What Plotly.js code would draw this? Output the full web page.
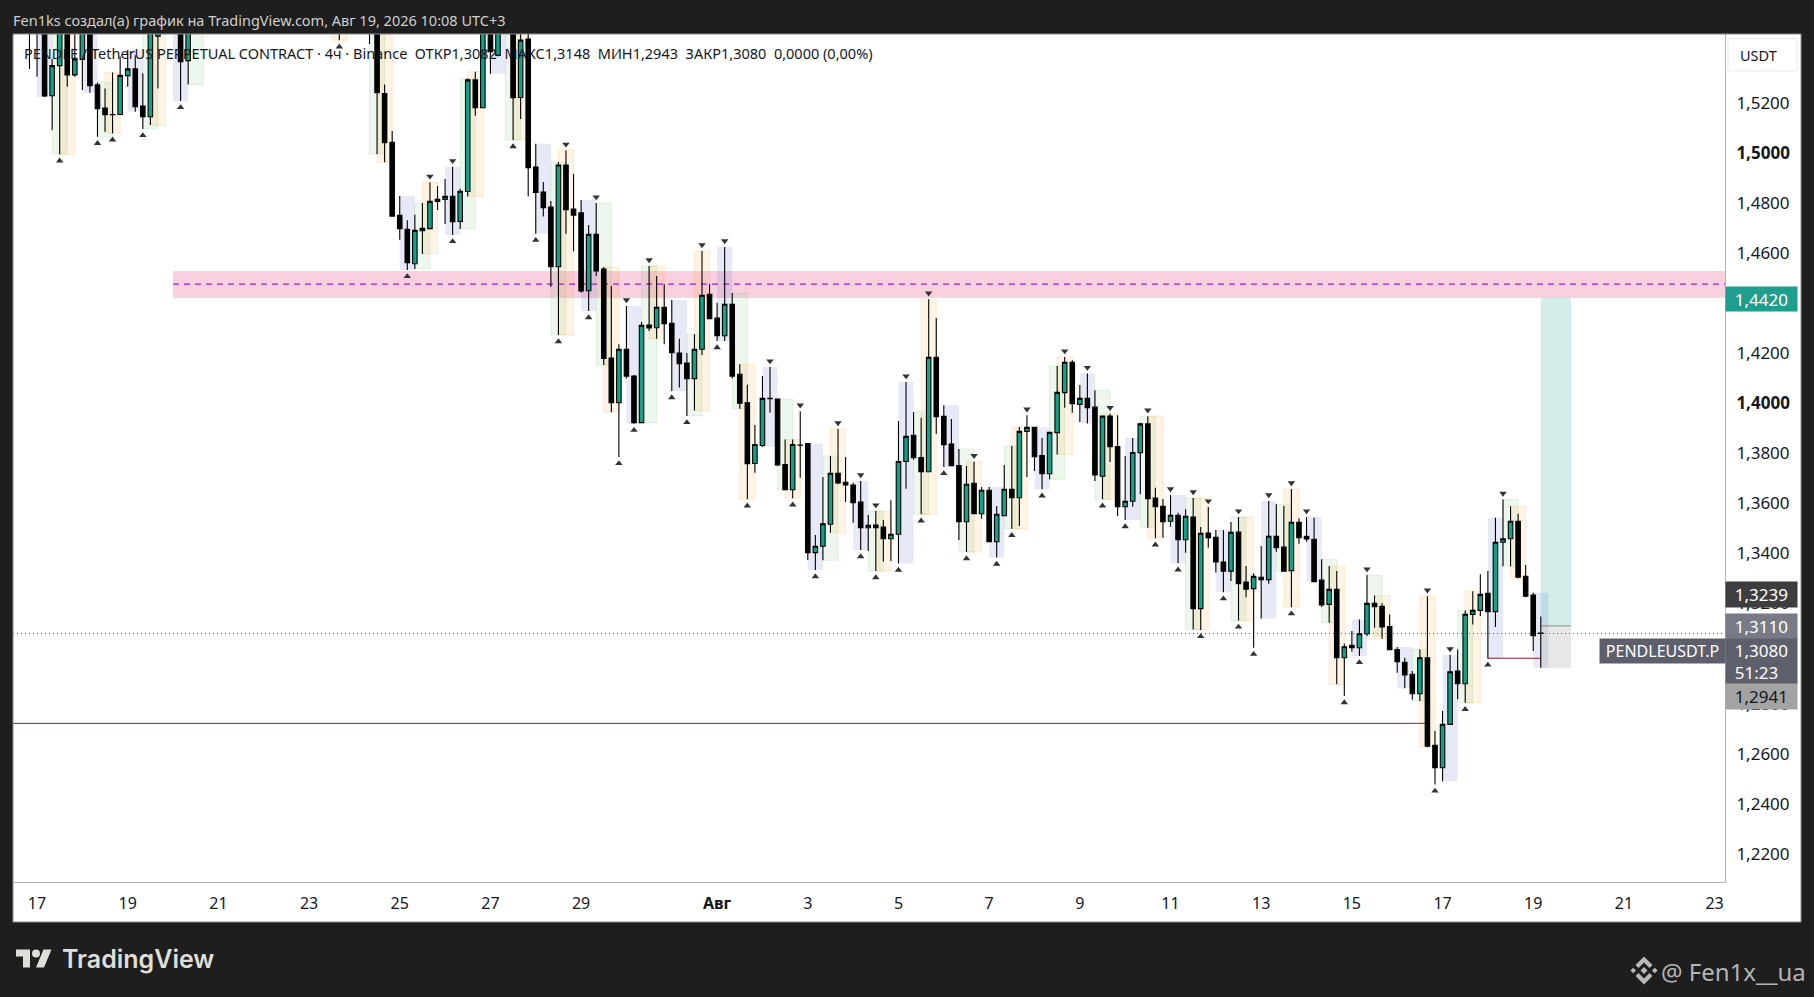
<!DOCTYPE html>
<html>
<head>
<meta charset="utf-8">
<script src="https://cdn.plot.ly/plotly-3.0.1.min.js"></script>
<style>html,body{margin:0;padding:0;background:#1e1e1e;overflow:hidden}#chart{width:1814px;height:997px}</style>
</head>
<body>
<div id="chart"></div>
<script>
// ---------- DATA ----------
const firstBar = '2026-07-16T23:00:00Z';
const barHours = 4;
const opens = [
1.5560,1.5520,1.5550,1.5228,1.5348,1.5520,1.5311,1.5373,1.5520,1.5271,1.5179,1.5153,1.5153,1.5308,1.5335,1.5187,1.5144,1.5466,1.5650,1.5710,1.5600,1.5368,
1.552,1.562,1.570,1.566,1.575,1.588,1.583,1.577,1.571,1.580,1.592,1.597,1.589,1.578,1.581,1.575,1.568,1.560,1.565,1.555,1.562,1.573,1.568,
1.575,1.565,1.5237,1.5042,1.4750,1.4694,1.4557,1.4689,1.4697,1.4806,1.4814,1.4826,1.4726,1.4845,1.5291,1.5180,1.555,1.5389,1.552,1.556,1.5221,1.5454,
1.4943,1.4843,1.4783,1.4545,1.4951,1.4775,1.4760,1.4449,1.4674,1.4536,1.4180,1.4002,1.4215,1.4108,1.3922,1.4312,1.4301,1.4383,1.4319,1.4200,1.4160,1.4098,1.4215,1.4435,1.4340,1.4269,1.4395,
1.4115,1.4001,1.3759,1.3831,1.4019,1.4016,1.3755,1.3654,1.3833,1.3839,1.3403,1.3428,1.3516,1.3720,1.3684,1.3673,1.3605,1.3502,1.3513,1.3505,1.3458,1.3476,1.3767,1.3871,1.3783,1.3726,1.4183,1.3947,1.3837,1.3751,1.3526,1.3680,1.3558,1.3652,1.3446,1.3550,1.3656,1.3622,1.3887,1.3903,1.3791,1.3718,1.3882,
1.4042,1.4163,1.3995,1.4019,1.3984,1.3708,1.3948,1.3827,1.3586,1.3608,1.3802,1.3917,1.3621,1.3588,1.3528,1.3552,1.3454,1.3545,1.3179,1.3481,1.3464,1.3365,1.3329,1.3485,1.3285,1.3259,1.3304,1.3295,1.3468,1.3425,1.3331,1.3524,1.3468,1.3456,1.3293,1.3196,1.3256,1.2983,1.3033,1.3023,1.3079,1.3200,1.3188,1.3108,1.3016,1.2965,1.2917,1.2839,1.2983,1.2633,1.2544,1.2717,1.2930,1.2879,1.3156,1.3172,1.3240,1.3167,1.3444,1.3458,1.3528,1.3308,1.3233,1.3082];
const highs = [
1.5650,1.5610,1.5570,1.5375,1.5600,1.5580,1.5520,1.5560,1.5560,1.5281,1.5257,1.5321,1.5385,1.5410,1.5390,1.5318,1.5530,1.5700,1.5770,1.5820,1.5650,1.5570,
1.566,1.574,1.582,1.579,1.592,1.598,1.590,1.585,1.583,1.596,1.604,1.606,1.595,1.586,1.593,1.583,1.576,1.570,1.572,1.566,1.578,1.585,1.580,
1.580,1.570,1.5273,1.5087,1.4827,1.4730,1.4752,1.4799,1.4882,1.4867,1.4895,1.4944,1.4856,1.5297,1.5324,1.560,1.560,1.556,1.566,1.562,1.550,1.5485,
1.5036,1.4883,1.4807,1.4963,1.5010,1.4916,1.4811,1.4711,1.4799,1.4544,1.4468,1.4235,1.4388,1.4112,1.4324,1.4548,1.4508,1.4475,1.4412,1.4257,1.4200,1.4275,1.4608,1.4476,1.4401,1.4624,1.4440,
1.4155,1.4073,1.3913,1.4108,1.4144,1.4016,1.3855,1.3855,1.3968,1.3839,1.3473,1.3705,1.3789,1.3897,1.3785,1.3682,1.3689,1.3553,1.3569,1.3533,1.3612,1.3929,1.4084,1.3965,1.3942,1.4415,1.4340,1.3992,1.3937,1.3817,1.3749,1.3766,1.3665,1.3665,1.3589,1.3753,1.3829,1.3905,1.3952,1.3903,1.3861,1.3883,1.4148,
1.4184,1.4171,1.4072,1.4118,1.4051,1.3948,1.3958,1.3952,1.3789,1.3861,1.3922,1.3948,1.3662,1.3617,1.3633,1.3562,1.3576,1.3621,1.3505,1.3585,1.3493,1.3493,1.3525,1.3545,1.3349,1.3320,1.3429,1.3609,1.3596,1.3589,1.3657,1.3540,1.3545,1.3542,1.3376,1.3349,1.3329,1.3040,1.3090,1.3136,1.3313,1.3232,1.3201,1.3156,1.3026,1.2983,1.2930,1.3016,1.3229,1.2690,1.2770,1.2994,1.3016,1.3172,1.3249,1.3316,1.3329,1.3542,1.3615,1.3588,1.3558,1.3353,1.3243,1.3148];
const lows = [
1.5335,1.5304,1.5223,1.5091,1.4994,1.5264,1.5304,1.5251,1.5240,1.5064,1.5084,1.5078,1.5150,1.5264,1.5164,1.5095,1.5111,1.5257,1.5530,1.5590,1.5207,1.5273,
1.549,1.557,1.564,1.558,1.570,1.579,1.572,1.566,1.563,1.575,1.585,1.584,1.574,1.566,1.573,1.562,1.556,1.551,1.550,1.5449,1.556,1.564,1.557,
1.5434,1.4995,1.4962,1.4745,1.4653,1.4532,1.4536,1.4596,1.4697,1.4771,1.4715,1.4672,1.4696,1.4825,1.5148,1.5178,1.5316,1.5385,1.549,1.5051,1.5135,1.4825,
1.4677,1.4745,1.4465,1.4272,1.4677,1.4607,1.4441,1.4368,1.4508,1.4152,1.3964,1.3785,1.4098,1.3918,1.3922,1.4288,1.4257,1.4235,1.4048,1.4062,1.3949,1.3971,1.4192,1.4337,1.4248,1.4248,1.4098,
1.3978,1.3616,1.3722,1.3825,1.3962,1.3749,1.3654,1.3620,1.3702,1.3373,1.3333,1.3372,1.3482,1.3676,1.3605,1.3522,1.3413,1.3409,1.3329,1.3367,1.3369,1.3359,1.3658,1.3774,1.3556,1.3726,1.3878,1.3745,1.3750,1.3453,1.3405,1.3558,1.3538,1.3446,1.3383,1.3550,1.3498,1.3509,1.3705,1.3729,1.3656,1.3696,1.3795,
1.3982,1.3962,1.3925,1.3919,1.3689,1.3616,1.3765,1.3549,1.3533,1.3586,1.3636,1.3502,1.3460,1.3462,1.3506,1.3360,1.3402,1.3096,1.3094,1.3422,1.3323,1.3245,1.3289,1.3132,1.3225,1.3023,1.3140,1.3279,1.3406,1.3329,1.3185,1.3438,1.3446,1.3287,1.3186,1.3123,1.2877,1.2830,1.3007,1.2990,1.3070,1.3103,1.3059,1.3015,1.2923,1.2861,1.2815,1.2810,1.2625,1.2477,1.2490,1.2717,1.2817,1.2803,1.3116,1.3150,1.2980,1.3106,1.3348,1.3348,1.3300,1.3225,1.3010,1.2943];
const closes = [
1.5520,1.5530,1.5227,1.5348,1.5500,1.5311,1.5375,1.5520,1.5268,1.5176,1.5152,1.5152,1.5309,1.5335,1.5184,1.5144,1.5500,1.5650,1.5710,1.5620,1.5364,1.5520,
1.562,1.570,1.566,1.575,1.588,1.583,1.577,1.571,1.580,1.592,1.597,1.589,1.578,1.581,1.575,1.568,1.560,1.565,1.555,1.562,1.573,1.568,1.575,
1.552,1.5240,1.5040,1.4747,1.4697,1.4561,1.4690,1.4698,1.4806,1.4814,1.4826,1.4725,1.4846,1.5291,1.5180,1.5535,1.5404,1.552,1.560,1.5220,1.5450,1.4940,
1.4841,1.4781,1.4545,1.4951,1.4773,1.4751,1.4448,1.4674,1.4528,1.4178,1.4002,1.4215,1.4108,1.3922,1.4311,1.4300,1.4383,1.4317,1.4201,1.4157,1.4098,1.4215,1.4431,1.4337,1.4269,1.4395,1.4108,
1.4000,1.3758,1.3835,1.4019,1.4018,1.3753,1.3654,1.3835,1.3832,1.3403,1.3428,1.3518,1.3720,1.3681,1.3673,1.3602,1.3502,1.3512,1.3502,1.3458,1.3476,1.3767,1.3867,1.3782,1.3726,1.4183,1.3946,1.3834,1.3750,1.3526,1.3676,1.3558,1.3652,1.3446,1.3556,1.3656,1.3622,1.3887,1.3903,1.3786,1.3718,1.3883,1.4043,
1.4163,1.3998,1.4019,1.3982,1.3713,1.3948,1.3826,1.3586,1.3608,1.3803,1.3917,1.3618,1.3586,1.3526,1.3552,1.3454,1.3548,1.3179,1.3480,1.3462,1.3366,1.3329,1.3484,1.3279,1.3257,1.3308,1.3295,1.3468,1.3423,1.3329,1.3524,1.3462,1.3457,1.3287,1.3194,1.3256,1.2983,1.3027,1.3023,1.3079,1.3200,1.3187,1.3106,1.3015,1.2967,1.2914,1.2839,1.2983,1.2630,1.2544,1.2717,1.2927,1.2879,1.3156,1.3172,1.3236,1.3167,1.3444,1.3458,1.3528,1.3305,1.3229,1.3071,1.3080];

// bars counted back from the last bar
const pivotLowBarsBack = [196,191,189,185,180,159,150,144,136,133,130,126,122,120,115,113,109,105,99,96,90,88,85,82,79,76,72,70,66,58,55,51,48,45,42,40,38,33,26,24,14,10,7];
const pivotHighBarsBack = [147,144,129,125,121,118,111,108,102,98,93,90,88,84,81,75,68,63,60,57,52,49,46,44,40,36,33,31,23,15,12,5];

const yTickVals = [1.22,1.24,1.26,1.28,1.32,1.34,1.36,1.38,1.40,1.42,1.46,1.48,1.50,1.52];
const yTickText = ['1,2200','1,2400','1,2600','1,2800','1,3200','1,3400','1,3600','1,3800','<b>1,4000</b>','1,4200','1,4600','1,4800','<b>1,5000</b>','1,5200'];
const xTickVals = ['2026-07-17 03:00','2026-07-19 03:00','2026-07-21 03:00','2026-07-23 03:00','2026-07-25 03:00','2026-07-27 03:00','2026-07-29 03:00','2026-08-01 03:00','2026-08-03 03:00','2026-08-05 03:00','2026-08-07 03:00','2026-08-09 03:00','2026-08-11 03:00','2026-08-13 03:00','2026-08-15 03:00','2026-08-17 03:00','2026-08-19 03:00','2026-08-21 03:00','2026-08-23 03:00'];
const xTickText = ['17','19','21','23','25','27','29','<b>Авг</b>','3','5','7','9','11','13','15','17','19','21','23'];

const zoneTop = 1.4528, zoneBottom = 1.4420, zoneMid = 1.4475;
const redLevelLong = 1.2721, redLevelShort = 1.2981;
const lastPrice = 1.3080, entryPrice = 1.3110, targetPrice = 1.4420, stopPrice = 1.2941;

// ---------- HELPERS ----------
const W = 1814, H = 997, ML = 13, MR = 89, MT = 34, MB = 115;
const xRangeStart = '2026-07-16 14:17', xRangeEnd = '2026-08-23 08:31';
const px = x => (x - ML) / (W - ML - MR);
const py = y => (H - MB - y) / (H - MT - MB);
const N = closes.length;
const t0 = Date.parse(firstBar);
const barTime = i => new Date(t0 + i * barHours * 3600000).toISOString().slice(0, 16).replace('T', ' ');
const times = closes.map((_, i) => barTime(i));
const back = k => N - 1 - k;

// ---------- SHAPES ----------
const shapes = [];
const paperRect = (x0, y0, x1, y1, fill, line, layer) => ({type:'rect', xref:'paper', yref:'paper', x0:px(x0), x1:px(x1), y0:py(y0), y1:py(y1), fillcolor:fill, line:line||{width:0}, layer:layer||'below'});
const paperPoly = (pts, fill) => ({type:'path', xref:'paper', yref:'paper', layer:'above', fillcolor:fill, line:{width:0}, path:'M' + pts.map(p => px(p[0]) + ',' + py(p[1])).join('L') + 'Z'});

shapes.push(paperRect(1725, 34, 1801, 922, '#ffffff'));
shapes.push(paperRect(13, 882, 1725, 922, '#ffffff'));
shapes.push(paperRect(13, 34, 1801, 922, 'rgba(0,0,0,0)', {color:'#8c8c8c', width:1}, 'above'));

// supply zone
shapes.push({type:'rect', xref:'x', yref:'y', layer:'below', x0:times[back(181)], x1:xRangeEnd, y0:zoneBottom, y1:zoneTop, fillcolor:'#f9d0e0', line:{width:0}});

// session boxes, one high/low range of two bars each
const sessionStyle = {1:['rgba(63,81,181,0.125)','rgba(63,81,181,0)'], 5:['rgba(76,175,80,0.1)','rgba(76,175,80,0.14)'], 4:['rgba(255,152,0,0.1)','rgba(255,152,0,0.16)']};
for (let k = N - 1; k >= 1; k--) {
  const st = sessionStyle[k % 6];
  if (!st) continue;
  const i = back(k);
  shapes.push({type:'rect', xref:'x', yref:'y', layer:'below', x0:times[i], x1:barTime(i + 2),
    y0:Math.min(lows[i], lows[i + 1]), y1:Math.max(highs[i], highs[i + 1]), fillcolor:st[0], line:{color:st[1], width:1}});
}
// zone mid line
shapes.push({type:'line', xref:'x', yref:'y', layer:'below', x0:times[back(181)], x1:xRangeEnd, y0:zoneMid, y1:zoneMid, line:{color:'#a020c0', width:1.3, dash:'6px,5px'}});
// red levels
shapes.push({type:'line', xref:'x', yref:'y', layer:'below', x0:xRangeStart, x1:times[back(15)], y0:redLevelLong, y1:redLevelLong, line:{color:'#8e1c30', width:1}});
shapes.push({type:'line', xref:'x', yref:'y', layer:'below', x0:times[back(7)], x1:times[back(0)], y0:redLevelShort, y1:redLevelShort, line:{color:'#8e1c30', width:1}});
// last price
shapes.push({type:'line', xref:'x', yref:'y', layer:'below', x0:xRangeStart, x1:xRangeEnd, y0:lastPrice, y1:lastPrice, line:{color:'#555555', width:1, dash:'1px,3px'}});
// position tool
shapes.push({type:'rect', xref:'x', yref:'y', layer:'below', x0:times[back(0)], x1:barTime(N + 3), y0:entryPrice, y1:targetPrice, fillcolor:'rgba(38,166,154,0.2)', line:{width:0}});
shapes.push({type:'rect', xref:'x', yref:'y', layer:'below', x0:times[back(0)], x1:barTime(N + 3), y0:stopPrice, y1:entryPrice, fillcolor:'rgba(150,150,150,0.22)', line:{width:0}});
shapes.push({type:'line', xref:'x', yref:'y', layer:'below', x0:times[back(0)], x1:barTime(N + 3), y0:entryPrice, y1:entryPrice, line:{color:'#8a8a8a', width:1}});

// USDT button outline
shapes.push(paperRect(1728, 38.5, 1797, 71, 'rgba(0,0,0,0)', {color:'#e4efe8', width:1}, 'above'));

// TradingView mark
const LX = 16, LY = 945.5, lc = '#dfdfd8';
shapes.push(paperPoly([[LX+14,LY+22],[LX+7,LY+22],[LX+7,LY+11],[LX,LY+11],[LX,LY+4],[LX+14,LY+4]], lc));
shapes.push(paperPoly([[LX+28,LY+22],[LX+20,LY+22],[LX+27.5,LY+4],[LX+35.5,LY+4]], lc));
shapes.push({type:'circle', xref:'paper', yref:'paper', layer:'above', x0:px(LX+16), x1:px(LX+24), y0:py(LY+12), y1:py(LY+4), fillcolor:lc, line:{width:0}});

// Binance mark
const BX = 1644, BY = 970.5, bc = '#b9b9b9';
const dia = (cx, cy, r) => paperPoly([[cx,cy-r],[cx+r,cy],[cx,cy+r],[cx-r,cy]], bc);
shapes.push(dia(BX, BY, 3.5), dia(BX - 10.8, BY, 2.8), dia(BX + 10.8, BY, 2.8));
shapes.push(paperPoly([[BX,BY-14],[BX+8.5,BY-5.5],[BX+5.5,BY-2.5],[BX,BY-8],[BX-5.5,BY-2.5],[BX-8.5,BY-5.5]], bc));
shapes.push(paperPoly([[BX,BY+14],[BX+8.5,BY+5.5],[BX+5.5,BY+2.5],[BX,BY+8],[BX-5.5,BY+2.5],[BX-8.5,BY+5.5]], bc));

// ---------- ANNOTATIONS ----------
const FONT = '"Noto Sans", sans-serif';
const text = (t, x, y, size, color, extra) => Object.assign({text:t, xref:'paper', yref:'paper', x:px(x), y:py(y), xanchor:'left', yanchor:'middle', showarrow:false, font:{family:FONT, size:size, color:color}, borderpad:0}, extra || {});
const INDENT = '\u00a0\u00a0';
const priceBox = (lines, yc, h, bg, fg) => text(lines.map(l => INDENT + l).join('<br>'), 1725, yc, 17, fg, {width:71, height:h, bgcolor:bg, align:'left', valign:'middle'});

const annotations = [
  text('Fen1ks создал(а) график на TradingView.com, Авг 19, 2026 10:08 UTC+3', 12, 20, 14.5, '#cfcfcf'),
  text('PENDLE / TetherUS PERPETUAL CONTRACT · 4ч · Binance  ОТКР1,3082  МАКС1,3148  МИН1,2943  ЗАКР1,3080  0,0000 (0,00%)', 22.5, 53.5, 14.5, '#131722'),
  text('USDT', 1739, 54.5, 14.5, '#131722'),
  priceBox(['1,4420'], 298.5, 24, '#1f9e8d', '#ffffff'),
  priceBox(['1,3239'], 594.5, 25, '#3e3e40', '#ffffff'),
  priceBox(['1,3110'], 626.5, 25, '#787b86', '#ffffff'),
  priceBox(['1,3080', '51:23'], 661.5, 45, '#5d606b', '#ffffff'),
  priceBox(['1,2941'], 696.5, 25, '#a3a3a3', '#131722'),
  text('PENDLEUSDT.P', 1599, 651, 16, '#ffffff', {width:125, height:24, bgcolor:'#5d606b', align:'center', valign:'middle'}),
  text('TradingView', 61, 959, 26, '#dfdfd8', {font:{family:'Inter, sans-serif', size:25, color:'#dfdfd8', weight:600}}),
  text('@ Fen1x__ua', 1660, 971, 24, '#b4b4b4')
];

// ---------- TRACES ----------
const candles = {
  type:'candlestick', x:times, open:opens, high:highs, low:lows, close:closes,
  whiskerwidth:0, hoverinfo:'skip', showlegend:false,
  increasing:{fillcolor:'#12a087', line:{color:'#000000', width:1.1}},
  decreasing:{fillcolor:'#000000', line:{color:'#000000', width:1.1}}
};
const lowIdx = pivotLowBarsBack.map(back), highIdx = pivotHighBarsBack.map(back);
const lowMarks = {type:'scatter', mode:'markers', x:lowIdx.map(i => times[i]), y:lowIdx.map(i => lows[i] - 0.0026), marker:{symbol:'triangle-up', size:6.5, color:'#333333'}, hoverinfo:'skip', showlegend:false};
const highMarks = {type:'scatter', mode:'markers', x:highIdx.map(i => times[i]), y:highIdx.map(i => highs[i] + 0.0024), marker:{symbol:'triangle-down', size:6.5, color:'#333333'}, hoverinfo:'skip', showlegend:false};

const layout = {
  width:W, height:H, autosize:false,
  margin:{l:ML, r:MR, t:MT, b:MB, pad:0},
  paper_bgcolor:'#1e1e1e', plot_bgcolor:'#ffffff',
  showlegend:false, boxgap:0.3, boxgroupgap:0.15,
  font:{family:FONT, color:'#131722', size:16},
  xaxis:{type:'date', range:[xRangeStart, xRangeEnd], tickmode:'array', tickvals:xTickVals, ticktext:xTickText, tickangle:0,
    showgrid:false, zeroline:false, showline:true, linecolor:'#b4b4b4', linewidth:1, ticks:'', ticklabelstandoff:7,
    tickfont:{family:FONT, size:16, color:'#131722'}, rangeslider:{visible:false}, fixedrange:true},
  yaxis:{side:'right', range:[1.20872, 1.54744], tickmode:'array', tickvals:yTickVals, ticktext:yTickText,
    showgrid:false, zeroline:false, showline:true, linecolor:'#b4b4b4', linewidth:1, ticks:'', ticklabelstandoff:7,
    tickfont:{family:FONT, size:17, color:'#131722'}, fixedrange:true},
  shapes:shapes, annotations:annotations
};
Plotly.newPlot('chart', [candles, lowMarks, highMarks], layout, {displayModeBar:false, staticPlot:true});
</script>
</body>
</html>
